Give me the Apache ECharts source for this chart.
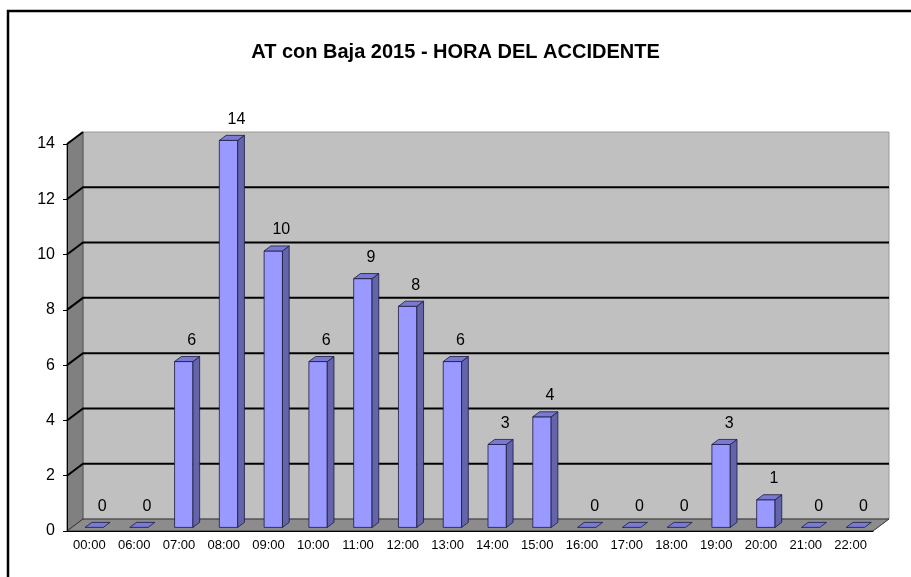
<!DOCTYPE html>
<html>
<head>
<meta charset="utf-8">
<script src="https://cdn.jsdelivr.net/npm/echarts@6/dist/echarts.min.js"></script>
<style>
  html, body { margin: 0; padding: 0; background: #fff; }
  #chart { width: 911px; height: 577px; }
</style>
</head>
<body>
<div id="chart"></div>
<script>
// datos del grafico
var titulo = 'AT con Baja 2015 - HORA DEL ACCIDENTE';
var horas = ['00:00', '06:00', '07:00', '08:00', '09:00', '10:00', '11:00', '12:00', '13:00',
  '14:00', '15:00', '16:00', '17:00', '18:00', '19:00', '20:00', '21:00', '22:00'];
var accidentes = [0, 0, 6, 14, 10, 6, 9, 8, 6, 3, 4, 0, 0, 0, 3, 1, 0, 0];
var yTicks = [0, 2, 4, 6, 8, 10, 12, 14];

var fuente = '"Liberation Sans", Arial, sans-serif';
var DX = 16, DY = 12; // profundidad del efecto 3D

// paredes, suelo y lineas de division
function renderParedes(params, api) {
  var cs = params.coordSys;
  var x0 = cs.x, x1 = cs.x + cs.width;
  var yTop = api.coord([0, yTicks[yTicks.length - 1]])[1];
  var yBot = api.coord([0, yTicks[0]])[1];
  var hijos = [];
  // pared del fondo
  hijos.push({
    type: 'polygon',
    shape: { points: [[x0 + DX, yTop - DY], [x1 + DX, yTop - DY], [x1 + DX, yBot - DY], [x0 + DX, yBot - DY]] },
    style: { fill: '#c0c0c0', stroke: '#9a9a9a', lineWidth: 1 }
  });
  // pared lateral
  hijos.push({
    type: 'polygon',
    shape: { points: [[x0, yTop], [x0 + DX, yTop - DY], [x0 + DX, yBot - DY], [x0, yBot]] },
    style: { fill: '#808080', stroke: '#555', lineWidth: 1 }
  });
  // suelo
  hijos.push({
    type: 'polygon',
    shape: { points: [[x0, yBot], [x0 + DX, yBot - DY], [x1 + DX, yBot - DY], [x1, yBot]] },
    style: { fill: '#8c8c8c', stroke: '#333', lineWidth: 1 }
  });
  yTicks.forEach(function (t, k) {
    if (k === 0) return;
    var y = api.coord([0, t])[1];
    var pts = [[x0, y], [x0 + DX, y - DY]];
    if (k < yTicks.length - 1) pts.push([x1 + DX, y - DY]);
    hijos.push({
      type: 'polyline',
      shape: { points: pts },
      style: { stroke: '#000', lineWidth: 2, fill: null }
    });
  });
  return { type: 'group', children: hijos };
}

// barras 3D con su etiqueta
function renderBarra(params, api) {
  var i = api.value(0), v = api.value(1);
  var arriba = api.coord([i, v]);
  var base = api.coord([i, 0]);
  var banda = api.size([1, 0])[0];
  var w = banda * 0.41;
  var ox = DX * 0.3, oy = -DY * 0.3;
  var bdx = DX * 0.42, bdy = DY * 0.42;
  var xl = arriba[0] - w / 2 + ox, xr = xl + w;
  var yt = arriba[1] + oy, yb = base[1] + oy;
  var borde = { stroke: '#1a1a40', lineWidth: 0.8 };
  var hijos = [];
  if (v > 0) {
    hijos.push({
      type: 'polygon',
      shape: { points: [[xl, yt], [xr, yt], [xr, yb], [xl, yb]] },
      style: Object.assign({ fill: '#9999ff' }, borde)
    });
    hijos.push({
      type: 'polygon',
      shape: { points: [[xr, yt], [xr + bdx, yt - bdy], [xr + bdx, yb - bdy], [xr, yb]] },
      style: Object.assign({ fill: '#6464aa' }, borde)
    });
  }
  hijos.push({
    type: 'polygon',
    shape: { points: [[xl, yt], [xl + bdx, yt - bdy], [xr + bdx, yt - bdy], [xr, yt]] },
    style: Object.assign({ fill: '#7a7ad2' }, borde)
  });
  hijos.push({
    type: 'text',
    style: {
      text: String(v), x: (xl + xr) / 2 + 8, y: yt - 21,
      align: 'center', verticalAlign: 'middle',
      font: '16px ' + fuente, fill: '#000'
    }
  });
  return { type: 'group', children: hijos };
}

var myChart = echarts.init(document.getElementById('chart'));
myChart.setOption({
  animation: false,
  title: {
    text: titulo,
    left: 'center',
    top: 37,
    textStyle: { fontFamily: fuente, fontSize: 20, fontWeight: 'bold', color: '#000' }
  },
  graphic: [{
    type: 'rect',
    shape: { x: 8, y: 11, width: 950, height: 620 },
    style: { fill: null, stroke: '#000', lineWidth: 2.5 },
    silent: true
  }],
  grid: { left: 67, right: 38, top: 144, bottom: 46 },
  xAxis: {
    type: 'category',
    data: horas,
    axisLine: { lineStyle: { color: '#000', width: 1 } },
    axisTick: { length: 5, lineStyle: { color: '#000' } },
    axisLabel: { color: '#000', fontSize: 13, fontFamily: fuente, margin: 8 },
    splitLine: { show: false }
  },
  yAxis: {
    type: 'value',
    min: yTicks[0],
    max: yTicks[yTicks.length - 1],
    interval: yTicks[1] - yTicks[0],
    axisLine: { show: true, lineStyle: { color: '#000', width: 1 } },
    axisTick: { show: true, length: 4, lineStyle: { color: '#000' } },
    axisLabel: { color: '#000', fontSize: 16, fontFamily: fuente, margin: 12 },
    splitLine: { show: false }
  },
  series: [
    {
      type: 'custom',
      name: 'paredes',
      z: -1,
      silent: true,
      renderItem: renderParedes,
      data: [[0, 0]]
    },
    {
      type: 'custom',
      name: 'AT con Baja',
      renderItem: renderBarra,
      data: accidentes.map(function (v, i) { return [i, v]; })
    }
  ]
});
window.addEventListener('resize', function () { myChart.resize(); });
</script>
</body>
</html>
